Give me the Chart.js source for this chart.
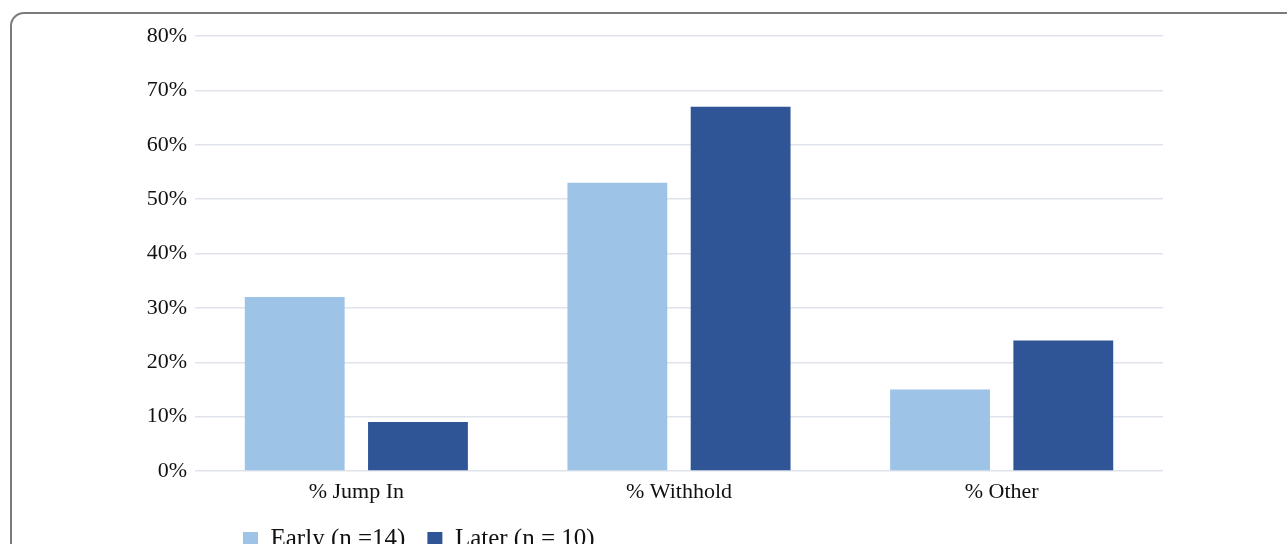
<!DOCTYPE html>
<html>
<head>
<meta charset="utf-8">
<script src="https://cdn.jsdelivr.net/npm/chart.js@4/dist/chart.umd.min.js"></script>
<style>
  html, body { margin: 0; padding: 0; background: #fff; overflow: hidden; }
  #wrap { position: relative; width: 1287px; height: 544px; overflow: hidden; }
  /* rounded frame round the figure */
  #frame {
    position: absolute; left: 10px; top: 12px; width: 1400px; height: 700px;
    border: 2px solid #7b7b7b; border-radius: 14px; box-sizing: border-box;
  }
  #chart { position: absolute; left: 0; top: 0; }
</style>
</head>
<body>
<div id="wrap">
  <div id="frame"></div>
  <canvas id="chart" width="1287" height="544"></canvas>
</div>
<script>
// 데이터
const categories = ['% Jump In', '% Withhold', '% Other'];
const seriesLabels = ['Early (n =14)', 'Later (n = 10)'];
const earlyValues = [32, 53, 15];
const laterValues = [9, 67, 24];
const yMin = 0, yMax = 80, yStep = 10;

const fontFamily = '"Liberation Serif", "Times New Roman", serif';

// 범례 위치를 그림에 맞게 옮기는 플러그인
const legendShift = {
    id: 'legendShift',
    afterLayout(chart) {
        const lg = chart.legend;
        if (!lg) return;
        const dx = 221 - lg.left;
        lg.left += dx;
        lg.right += dx;
        lg.top = 505;
        lg.height = 60;
        lg.bottom = 565;
    }
};

const ctx = document.getElementById('chart').getContext('2d');
new Chart(ctx, {
    type: 'bar',
    data: {
        labels: categories,
        datasets: [{
            label: seriesLabels[0],
            data: earlyValues,
            backgroundColor: '#9dc3e6',
            barPercentage: 0.81,
            categoryPercentage: 0.764
        }, {
            label: seriesLabels[1],
            data: laterValues,
            backgroundColor: '#2f5597',
            barPercentage: 0.81,
            categoryPercentage: 0.764
        }]
    },
    options: {
        responsive: false,
        animation: false,
        devicePixelRatio: 1,
        layout: { padding: { left: 0, right: 124, top: 36, bottom: 0 } },
        scales: {
            x: {
                grid: { display: false },
                border: { display: false },
                ticks: { color: '#111', font: { family: fontFamily, size: 22 }, padding: 0 }
            },
            y: {
                min: yMin,
                max: yMax,
                grid: { color: '#dfe3ec', lineWidth: 1.5, drawTicks: false },
                border: { display: false },
                ticks: {
                    stepSize: yStep,
                    padding: 8,
                    color: '#111',
                    font: { family: fontFamily, size: 22 },
                    callback: v => v + '%'
                },
                afterFit: function(scale) { scale.width = 195; }
            }
        },
        plugins: {
            legend: {
                position: 'bottom',
                align: 'start',
                maxHeight: 38.6,
                labels: {
                    boxWidth: 15,
                    boxHeight: 15,
                    padding: 22,
                    color: '#111',
                    font: { family: fontFamily, size: 25 }
                }
            },
            tooltip: { enabled: false }
        }
    },
    plugins: [legendShift]
});
</script>
</body>
</html>
